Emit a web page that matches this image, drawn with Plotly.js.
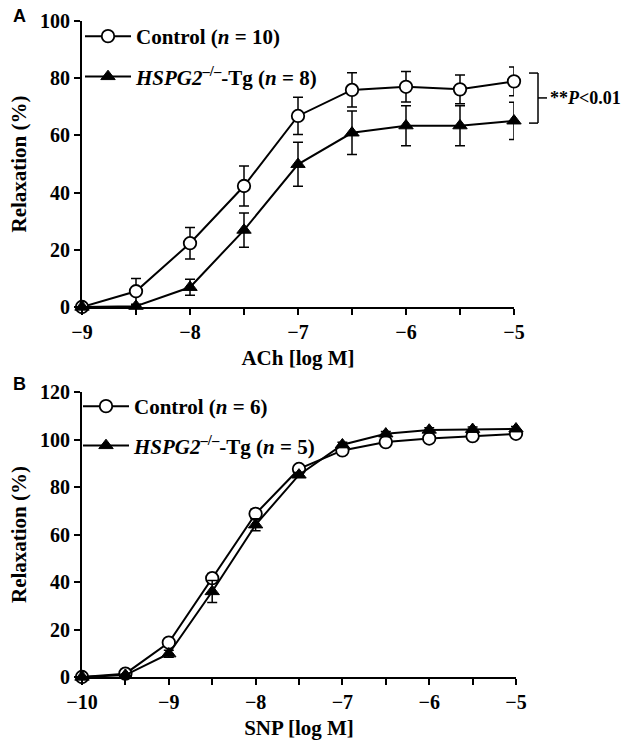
<!DOCTYPE html>
<html>
<head>
<meta charset="utf-8">
<script src="https://cdn.plot.ly/plotly-3.0.1.min.js"></script>
<style>html,body{margin:0;padding:0;background:#fff;}#chart{width:622px;height:745px;}</style>
</head>
<body>
<div id="chart"></div>
<script>
// Panel A: ACh
const doseA = [-9, -8.5, -8, -7.5, -7, -6.5, -6, -5.5, -5];
const controlA = [0, 5.5, 22.3, 42.3, 66.8, 75.9, 77.0, 76.1, 78.9];
const controlAErr = [0, 4.5, 5.5, 7, 6.5, 6, 5.3, 5, 5];
const tgA = [0, 0.3, 6.9, 26.9, 49.9, 60.9, 63.4, 63.4, 65.1];
const tgAErr = [0, 0, 2.8, 6, 7.7, 7.6, 7, 7, 6.5];

// Panel B: SNP
const doseB = [-10, -9.5, -9, -8.5, -8, -7.5, -7, -6.5, -6, -5.5, -5];
const controlB = [0, 1.4, 14.5, 41.6, 68.7, 87.6, 95.4, 98.9, 100.4, 101.4, 102.4];
const controlBErr = [0, 0.5, 1.5, 2, 2, 1, 1, 1, 1, 1, 1];
const tgB = [0, 0.8, 9.8, 36.0, 64.1, 85.1, 97.8, 102.4, 104.0, 104.3, 104.5];
const tgBErr = [0, 0.5, 1.5, 4.6, 2.5, 1, 1, 1, 1, 1, 1];

// Tick labels
const xTickValsA = [-9, -8, -7, -6, -5];
const xTickTextA = ['\u22129', '\u22128', '\u22127', '\u22126', '\u22125'];
const xMinorValsA = [-8.5, -7.5, -6.5, -5.5];
const xTickValsB = [-10, -9, -8, -7, -6, -5];
const xTickTextB = ['\u221210', '\u22129', '\u22128', '\u22127', '\u22126', '\u22125'];
const xMinorValsB = [-9.5, -8.5, -7.5, -6.5, -5.5];
const yTickValsA = [0, 20, 40, 60, 80, 100];
const yTickValsB = [0, 20, 40, 60, 80, 100, 120];

const legendControlA = 'Control (<i>n</i> = 10)';
const legendTgA = '<i>HSPG2</i><sup>\u2013/\u2013</sup>-Tg (<i>n</i> = 8)';
const legendControlB = 'Control (<i>n</i> = 6)';
const legendTgB = '<i>HSPG2</i><sup>\u2013/\u2013</sup>-Tg (<i>n</i> = 5)';

const serif = 'Liberation Serif, Times New Roman, serif';
const circleMarker = {symbol: 'circle', size: 12.5, color: 'white', line: {color: 'black', width: 1.8}};
const triMarker = {symbol: 'triangle-up', size: 12.5, color: 'black', line: {color: 'black', width: 1}};
const lineStyle = {color: 'black', width: 2};
function err(arr) { return {type: 'data', array: arr, visible: true, color: 'black', thickness: 1.5, width: 5}; }

const traces = [
  {x: doseA, y: controlA, error_y: err(controlAErr), mode: 'lines+markers', name: legendControlA, legendgroup: 'a1',
   marker: circleMarker, line: lineStyle, xaxis: 'x', yaxis: 'y', legend: 'legend', cliponaxis: false},
  {x: doseA, y: tgA, error_y: err(tgAErr), mode: 'lines+markers', name: legendTgA, legendgroup: 'a2',
   marker: triMarker, line: lineStyle, xaxis: 'x', yaxis: 'y', legend: 'legend', cliponaxis: false},
  {x: doseB, y: controlB, error_y: err(controlBErr), mode: 'lines+markers', name: legendControlB, legendgroup: 'b1',
   marker: circleMarker, line: lineStyle, xaxis: 'x2', yaxis: 'y2', legend: 'legend2', cliponaxis: false},
  {x: doseB, y: tgB, error_y: err(tgBErr), mode: 'lines+markers', name: legendTgB, legendgroup: 'b2',
   marker: triMarker, line: lineStyle, xaxis: 'x2', yaxis: 'y2', legend: 'legend2', cliponaxis: false}
];

const W = 622, H = 745;
const tickFont = {family: serif, size: 20, color: 'black', weight: 'bold'};
const titleFont = {family: serif, size: 21, color: 'black', weight: 'bold'};
const axisCommon = {showline: true, linewidth: 2, linecolor: 'black', ticks: 'outside', ticklen: 6,
  tickwidth: 2, tickcolor: 'black', showgrid: false, zeroline: false, tickfont: tickFont, fixedrange: true};

function legendAt(px, py, gap) {
  return {x: px / W, y: 1 - py / H, xanchor: 'left', yanchor: 'top', bgcolor: 'rgba(0,0,0,0)',
    font: {family: serif, size: 21, color: 'black', weight: 'bold'}, itemwidth: 46, borderwidth: 0,
    tracegroupgap: gap, traceorder: 'grouped'};
}

const layout = {
  width: W, height: H,
  margin: {l: 0, r: 0, t: 0, b: 0},
  paper_bgcolor: 'white', plot_bgcolor: 'white',
  showlegend: true,
  xaxis: Object.assign({}, axisCommon, {domain: [82 / W, 514 / W], range: [-9, -5], tickmode: 'array', tickvals: xTickValsA, ticktext: xTickTextA,
    minor: {tickmode: 'array', tickvals: xMinorValsA, ticks: 'outside', ticklen: 6, tickwidth: 2, tickcolor: 'black', showgrid: false},
    anchor: 'y', title: {text: 'ACh [log M]', font: titleFont, standoff: 8}}),
  yaxis: Object.assign({}, axisCommon, {domain: [1 - 307 / H, 1 - 21 / H], range: [0, 100], tickvals: yTickValsA,
    anchor: 'x', title: {text: 'Relaxation (%)', font: titleFont, standoff: 8}}),
  xaxis2: Object.assign({}, axisCommon, {domain: [82 / W, 516 / W], range: [-10, -5], tickmode: 'array', tickvals: xTickValsB, ticktext: xTickTextB,
    minor: {tickmode: 'array', tickvals: xMinorValsB, ticks: 'outside', ticklen: 6, tickwidth: 2, tickcolor: 'black', showgrid: false},
    anchor: 'y2', title: {text: 'SNP [log M]', font: titleFont, standoff: 8}}),
  yaxis2: Object.assign({}, axisCommon, {domain: [1 - 677 / H, 1 - 392 / H], range: [0, 120], tickvals: yTickValsB,
    anchor: 'x2', title: {text: 'Relaxation (%)', font: titleFont, standoff: 8}}),
  legend: legendAt(80, 16, 10),
  legend2: legendAt(78, 386, 9),
  shapes: [
    {type: 'line', xref: 'paper', yref: 'y', x0: 529 / W, x1: 538 / W, y0: 81.8, y1: 81.8, line: {color: 'black', width: 1.5}},
    {type: 'line', xref: 'paper', yref: 'y', x0: 538 / W, x1: 538 / W, y0: 81.8, y1: 64.3, line: {color: 'black', width: 1.5}},
    {type: 'line', xref: 'paper', yref: 'y', x0: 529 / W, x1: 538 / W, y0: 64.3, y1: 64.3, line: {color: 'black', width: 1.5}},
    {type: 'line', xref: 'paper', yref: 'y', x0: 538 / W, x1: 547 / W, y0: 73.1, y1: 73.1, line: {color: 'black', width: 1.5}}
  ],
  annotations: [
    {text: '**<i>P</i>&lt;0.01', xref: 'paper', yref: 'y', x: 548 / W, y: 73.1, xanchor: 'left', yanchor: 'middle',
     showarrow: false, font: {family: serif, size: 18, color: 'black', weight: 'bold'}},
    {text: 'A', xref: 'paper', yref: 'paper', x: 19 / W, y: 1 - 16 / H, xanchor: 'center', yanchor: 'middle',
     showarrow: false, font: {family: 'Liberation Sans, Arial, sans-serif', size: 18, color: 'black', weight: 'bold'}},
    {text: 'B', xref: 'paper', yref: 'paper', x: 19 / W, y: 1 - 384 / H, xanchor: 'center', yanchor: 'middle',
     showarrow: false, font: {family: 'Liberation Sans, Arial, sans-serif', size: 18, color: 'black', weight: 'bold'}}
  ]
};

Plotly.newPlot('chart', traces, layout, {displayModeBar: false, staticPlot: true});
</script>
</body>
</html>
